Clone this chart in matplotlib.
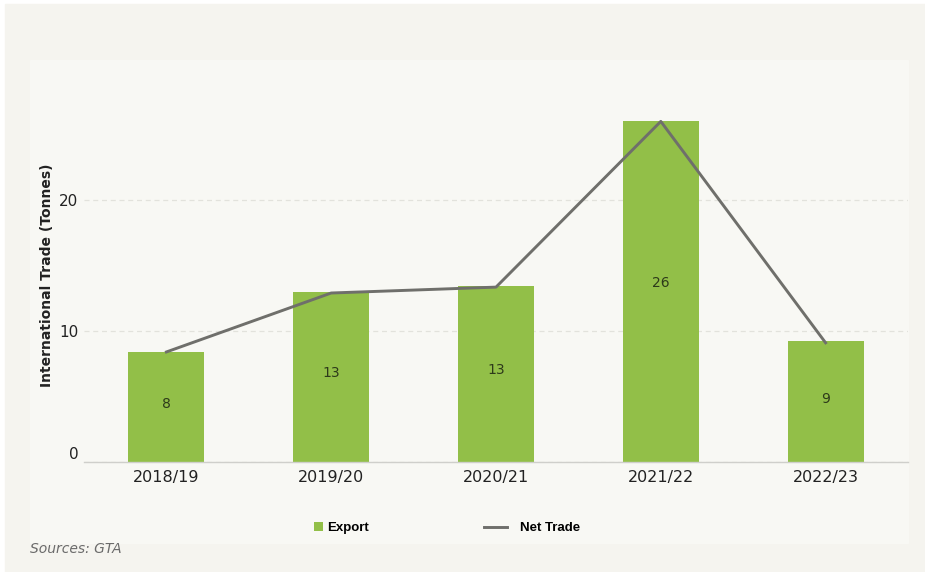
import matplotlib.pyplot as plt
from matplotlib.patches import Rectangle

seasons = ["2018/19", "2019/20", "2020/21", "2021/22", "2022/23"]
export = [8.4, 13.0, 13.4, 26.0, 9.2]
net_trade = [8.4, 12.9, 13.35, 26.0, 9.1]
y_ticks = [0, 10, 20]

bar_color = "#92bf48"
line_color = "#6f6f6b"

fig = plt.figure(figsize=(9.25, 5.72), dpi=100)
fig.patch.set_facecolor("white")

# outer card and inner chart panel
fig.patches.append(Rectangle((5 / 925, 0), 920 / 925, 1 - 4 / 572,
                             transform=fig.transFigure, color="#f5f4ef", zorder=-2))
fig.patches.append(Rectangle((30 / 925, 1 - 543 / 572), 878 / 925, 483 / 572,
                             transform=fig.transFigure, color="#f8f8f4", zorder=-1))

ax = fig.add_axes([84 / 925, 1 - 462 / 572, 824 / 925, 393 / 572])
ax.set_facecolor("none")

x = list(range(len(seasons)))
bars = ax.bar(x, export, width=0.46, color=bar_color, label="Export", zorder=2)
line, = ax.plot(x, net_trade, color=line_color, lw=2.1, label="Net Trade", zorder=3)

# value labels sit a touch above the bar middle
for xi, v in zip(x, export):
    ax.text(xi, v * 0.525, f"{v:.0f}", ha="center", va="center",
            fontsize=10, color="#2d3a1a", zorder=4)

ax.set_xlim(-0.5, 4.5)
ax.set_ylim(0, 30)
ax.set_yticks(y_ticks)
ax.set_xticks(x)
ax.set_xticklabels(seasons, fontsize=11.5, color="#222222")
ax.tick_params(axis="y", labelsize=11, colors="#222222", length=0, pad=4)
ax.tick_params(axis="x", length=0, pad=6)
ax.grid(axis="y", color="#e2e2dc", linestyle=(0, (4, 3)), lw=0.9, zorder=0)
for tl in ax.get_yticklabels():
    if tl.get_text() == "0":
        tl.set_va("bottom")

for s in ["top", "right", "left"]:
    ax.spines[s].set_visible(False)
ax.spines["bottom"].set_color("#cfcfcb")
ax.spines["bottom"].set_linewidth(1)

ax.set_ylabel("International Trade (Tonnes)", fontsize=10, fontweight="bold",
              color="#222222")
ax.yaxis.set_label_coords(-0.036, 0.476)

leg_font = {"family": "Liberation Sans", "weight": "bold", "size": 9.5}
y_leg = 1 - 528 / 572
fig.legend(handles=[bars], labels=["Export"], loc="center left",
           bbox_to_anchor=(314 / 925, y_leg), frameon=False,
           borderpad=0, borderaxespad=0, handlelength=0.7,
           handleheight=0.7, handletextpad=0.3, prop=leg_font)
fig.legend(handles=[line], labels=["Net Trade"], loc="center left",
           bbox_to_anchor=(484 / 925, y_leg), frameon=False,
           borderpad=0, borderaxespad=0, handlelength=1.75,
           handletextpad=1.0, prop=leg_font)

fig.text(30 / 925, 1 - 549 / 572, "Sources: GTA", fontsize=10, style="italic",
         color="#6b6b6b", ha="left", va="center")

fig.savefig("out.png", dpi=100)
